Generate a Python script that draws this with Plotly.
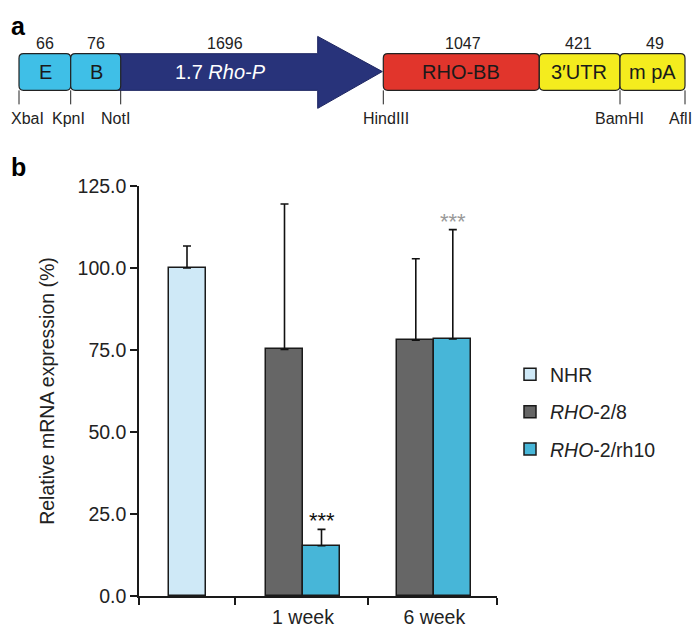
import plotly.graph_objects as go

# ---------------- data ----------------
groups = ["", "1 week", "6 week"]
series_names = ["NHR", "<i>RHO</i>-2/8", "<i>RHO</i>-2/rh10"]
nhr_mean = [100.0]
nhr_err = [6.7]
rho28_mean = [75.2, 78.0]
rho28_err = [44.3, 24.8]
rh10_mean = [15.3, 78.4]
rh10_err = [5.0, 33.3]
rh10_sig = ["***", "***"]
y_ticks = [0, 25, 50, 75, 100, 125]

# construct diagram (panel a)
seg_labels = ["E", "B", "1.7 <i>Rho-P</i>", "RHO-BB", "3\u2032UTR", "m pA"]
seg_sizes = ["66", "76", "1696", "1047", "421", "49"]
sites = ["XbaI", "KpnI", "NotI", "HindIII", "BamHI", "AflII"]

# ---------------- layout constants (reference pixels) ----------------
OFF = 8                       # page body margin
W_FIG, H_FIG = 700 - OFF, 630 - OFF
L, R_EDGE = 139, 497          # plot area x (page px)
TOP, BOT = 185.7, 596         # plot area y (page px)
PW, PH = R_EDGE - L, BOT - TOP

group_centers = [48, 164, 295.3]      # x-axis units (= px from axis)
group_bounds = [0, 96, 229, 358]
bar_w = 37

FONT = "Liberation Sans, Arial, Helvetica, sans-serif"
C_NHR = "#cfe9f7"
C_R28 = "#666666"
C_R10 = "#47b6d8"


def px(x):
    return (x - L) / PW


def py(y):
    return (BOT - y) / PH


fig = go.Figure()
err_style = dict(type="data", symmetric=False, color="#111111", thickness=1.6, width=4)
line_style = dict(color="#1a1a1a", width=1.5)

fig.add_trace(go.Bar(
    name=series_names[0], x=[group_centers[0]], y=nhr_mean, width=bar_w,
    marker=dict(color=C_NHR, line=line_style),
    error_y=dict(array=nhr_err, arrayminus=[0] * len(nhr_err), **err_style),
    legendgroup="a"))
fig.add_trace(go.Bar(
    name=series_names[1], x=group_centers[1:], y=rho28_mean, width=bar_w, offset=-bar_w,
    marker=dict(color=C_R28, line=line_style),
    error_y=dict(array=rho28_err, arrayminus=[0] * len(rho28_err), **err_style),
    legendgroup="b"))
fig.add_trace(go.Bar(
    name=series_names[2], x=group_centers[1:], y=rh10_mean, width=bar_w, offset=0,
    marker=dict(color=C_R10, line=line_style),
    error_y=dict(array=rh10_err, arrayminus=[0] * len(rh10_err), **err_style),
    legendgroup="c"))

annotations = []
# significance stars
star_colors = ["#111111", "#999999"]
for i, (m, e, s) in enumerate(zip(rh10_mean, rh10_err, rh10_sig)):
    annotations.append(dict(x=group_centers[i + 1] + bar_w / 2, y=m + e, xref="x", yref="y",
                            text=s, showarrow=False, yanchor="bottom", yshift=-6,
                            font=dict(size=22, color=star_colors[i], family=FONT)))

# ---------------- panel a diagram ----------------
shapes = []
BY0, BY1 = 53.3, 90.0
edges = [19, 70.7, 120.7, 383.3, 539.3, 620, 685]
head_x, tip_x, head_y0, head_y1 = 317.7, 382.3, 36, 108
box_colors = ["#3fbfe7", "#3fbfe7", None, "#e1352c", "#f4ec1e", "#f4ec1e"]
rr = 4.5


def rrect(x0, x1, y0, y1, r):
    return (f"M {px(x0 + r)},{py(y0)} L {px(x1 - r)},{py(y0)} "
            f"Q {px(x1)},{py(y0)} {px(x1)},{py(y0 + r)} L {px(x1)},{py(y1 - r)} "
            f"Q {px(x1)},{py(y1)} {px(x1 - r)},{py(y1)} L {px(x0 + r)},{py(y1)} "
            f"Q {px(x0)},{py(y1)} {px(x0)},{py(y1 - r)} L {px(x0)},{py(y0 + r)} "
            f"Q {px(x0)},{py(y0)} {px(x0 + r)},{py(y0)} Z")


# arrow
arrow_pts = [(edges[2] - 5, BY0), (head_x, BY0), (head_x, head_y0), (tip_x, (BY0 + BY1) / 2 - 0.5),
             (head_x, head_y1), (head_x, BY1), (edges[2] - 5, BY1)]
arrow_path = "M " + " L ".join(f"{px(a)},{py(b)}" for a, b in arrow_pts) + " Z"
shapes.append(dict(type="path", path=arrow_path, xref="paper", yref="paper",
                   fillcolor="#28337a", line=dict(color="#1c2460", width=1)))
for i, c in enumerate(box_colors):
    if c is None:
        continue
    shapes.append(dict(type="path", path=rrect(edges[i], edges[i + 1], BY0, BY1, rr),
                       xref="paper", yref="paper", fillcolor=c,
                       line=dict(color="#222222", width=1.2)))

site_x = [19, 70.7, 120.7, 383.3, 620, 685]
for sx in site_x:
    shapes.append(dict(type="line", xref="paper", yref="paper", x0=px(sx), x1=px(sx),
                       y0=py(BY1), y1=py(104), line=dict(color="#222222", width=1)))

size_x = [45, 96, 225, 463, 578, 655]
for t, xx in zip(seg_sizes, size_x):
    annotations.append(dict(x=px(xx), y=py(43), xref="paper", yref="paper", text=t,
                            showarrow=False, xanchor="center", yanchor="middle",
                            font=dict(size=16, color="#222222", family=FONT)))
lab_x = [45, 96, 220, 461, 579, 652]
lab_col = ["#1a1a1a", "#1a1a1a", "#ffffff", "#1a1a1a", "#1a1a1a", "#1a1a1a"]
for t, xx, cc in zip(seg_labels, lab_x, lab_col):
    annotations.append(dict(x=px(xx), y=py(72), xref="paper", yref="paper", text=t,
                            showarrow=False, xanchor="center", yanchor="middle",
                            font=dict(size=20, color=cc, family=FONT)))
# restriction sites (outermost ones kept inside the page)
site_lab = [(9, "left"), (68, "center"), (115, "center"), (386, "center"),
            (619, "center"), (699, "right")]
for t, (xx, anc) in zip(sites, site_lab):
    annotations.append(dict(x=px(xx), y=py(118), xref="paper", yref="paper", text=t,
                            showarrow=False, xanchor=anc, yanchor="middle",
                            font=dict(size=16, color="#222222", family=FONT)))

# panel letters (kept fully inside the page)
for t, yy in [("a", 25.5), ("b", 167)]:
    annotations.append(dict(x=px(9), y=py(yy), xref="paper", yref="paper", text=f"<b>{t}</b>",
                            showarrow=False, xanchor="left", yanchor="middle",
                            font=dict(size=25, color="#000000", family=FONT)))

fig.update_layout(
    width=W_FIG, height=H_FIG,
    margin=dict(l=L - OFF, r=700 - R_EDGE, t=TOP - OFF, b=630 - BOT, pad=0, autoexpand=False),
    paper_bgcolor="white", plot_bgcolor="white",
    font=dict(family=FONT, size=19.5, color="#222222"),
    barmode="overlay", bargap=0,
    showlegend=True,
    legend=dict(x=px(510), y=py(355), xanchor="left", yanchor="top",
                traceorder="grouped", tracegroupgap=9,
                font=dict(size=19.5, family=FONT, color="#222222"),
                bgcolor="rgba(0,0,0,0)"),
    shapes=shapes, annotations=annotations,
    xaxis=dict(range=[0, group_bounds[-1]], showline=True, linecolor="#1a1a1a", linewidth=1.5,
               tickmode="array", tickvals=group_centers[1:], ticktext=groups[1:], ticks="",
               ticklabelstandoff=3, automargin=False,
               showgrid=False, zeroline=False, fixedrange=True,
               minor=dict(tickmode="array", tickvals=group_bounds, ticks="outside",
                          ticklen=7, tickwidth=1.5, tickcolor="#1a1a1a", showgrid=False),
               tickfont=dict(size=19.5)),
    yaxis=dict(range=[0, 125], showline=True, linecolor="#1a1a1a", linewidth=1.5,
               tickmode="array", tickvals=y_ticks, tickformat=".1f", ticks="outside",
               ticklen=7, tickwidth=1.5, tickcolor="#1a1a1a", automargin=False,
               showgrid=False, zeroline=False, fixedrange=True,
               title=dict(text="Relative mRNA expression (%)", standoff=18,
                          font=dict(size=19.5)),
               tickfont=dict(size=19.5)),
)

fig.write_html("out.html")
